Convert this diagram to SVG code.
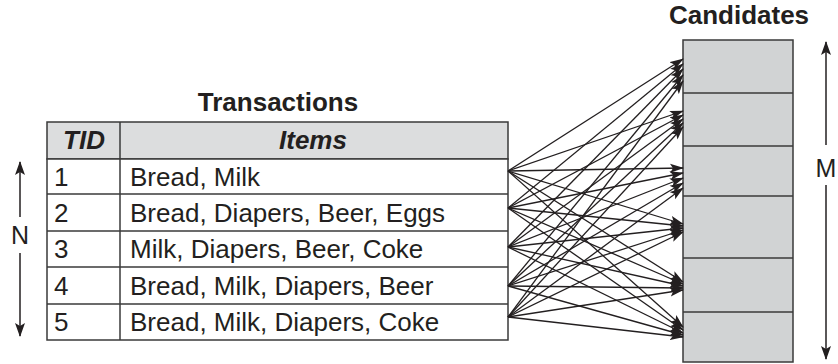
<svg xmlns="http://www.w3.org/2000/svg" width="838" height="364" viewBox="0 0 838 364">
<style>
.t{font-family:"Liberation Sans",Arial,sans-serif;font-size:26px;fill:#231f20}
.b{font-weight:bold}
.bi{font-weight:bold;font-style:italic}
.cell{stroke:#3a3a3a;stroke-width:1.5}
.c{stroke:#231f20;stroke-width:1.3;fill:none;marker-end:url(#ah)}
.dim{stroke:#231f20;stroke-width:1.5;fill:none}
</style>
<defs>
<marker id="ah" markerUnits="userSpaceOnUse" markerWidth="14" markerHeight="10" refX="13" refY="5" orient="auto">
<path d="M0,0.5 L14,5 L0,9.5 L3,5 z" fill="#231f20"/>
</marker>
<marker id="dh" markerUnits="userSpaceOnUse" markerWidth="14" markerHeight="10" refX="13" refY="5" orient="auto">
<path d="M0,0 L14,5 L0,10 L3,5 z" fill="#231f20"/>
</marker>
</defs>
<text class="t b" x="278" y="111" text-anchor="middle">Transactions</text>
<text class="t b" x="739" y="24" text-anchor="middle">Candidates</text>
<g id="table">
<rect class="cell" x="47" y="122" width="461" height="37" fill="#dcddde"/>
<rect class="cell" x="47" y="159" width="461" height="181" fill="#ffffff"/>
<line class="cell" x1="47" y1="194" x2="508" y2="194"/>
<line class="cell" x1="47" y1="231" x2="508" y2="231"/>
<line class="cell" x1="47" y1="267" x2="508" y2="267"/>
<line class="cell" x1="47" y1="304" x2="508" y2="304"/>
<line class="cell" x1="120" y1="122" x2="120" y2="340"/>
<text class="t bi" x="84" y="149" text-anchor="middle">TID</text>
<text class="t bi" x="313" y="149" text-anchor="middle">Items</text>
<text class="t" x="54" y="186">1</text><text class="t" x="130" y="186">Bread, Milk</text>
<text class="t" x="54" y="222">2</text><text class="t" x="130" y="222">Bread, Diapers, Beer, Eggs</text>
<text class="t" x="54" y="258">3</text><text class="t" x="130" y="258">Milk, Diapers, Beer, Coke</text>
<text class="t" x="54" y="295">4</text><text class="t" x="130" y="295">Bread, Milk, Diapers, Beer</text>
<text class="t" x="54" y="331">5</text><text class="t" x="130" y="331">Bread, Milk, Diapers, Coke</text>
</g>
<g id="candidates">
<rect class="cell" x="683" y="40" width="110" height="322" fill="#d1d3d4"/>
<line class="cell" x1="683" y1="93" x2="793" y2="93"/>
<line class="cell" x1="683" y1="146" x2="793" y2="146"/>
<line class="cell" x1="683" y1="196" x2="793" y2="196"/>
<line class="cell" x1="683" y1="258" x2="793" y2="258"/>
<line class="cell" x1="683" y1="312" x2="793" y2="312"/>
</g>
<g id="N">
<line class="dim" x1="20" y1="217" x2="20" y2="162" marker-end="url(#dh)"/>
<line class="dim" x1="20" y1="253" x2="20" y2="336" marker-end="url(#dh)"/>
<text class="t" x="20" y="244" text-anchor="middle" style="font-size:25px">N</text>
</g>
<g id="M">
<line class="dim" x1="826" y1="145" x2="826" y2="42" marker-end="url(#dh)"/>
<line class="dim" x1="826" y1="185" x2="826" y2="359" marker-end="url(#dh)"/>
<text class="t" x="826" y="177" text-anchor="middle" style="font-size:25px">M</text>
</g>
<g id="connectors">
<path class="c" d="M508,171 L683,59"/><path class="c" d="M508,171 L683,111"/><path class="c" d="M508,171 L683,168"/><path class="c" d="M508,171 L683,224"/><path class="c" d="M508,171 L683,282"/><path class="c" d="M508,171 L683,327"/>
<path class="c" d="M508,208 L683,64"/><path class="c" d="M508,208 L683,115"/><path class="c" d="M508,208 L683,173"/><path class="c" d="M508,208 L683,226"/><path class="c" d="M508,208 L683,284"/><path class="c" d="M508,208 L683,330"/>
<path class="c" d="M508,247 L683,69"/><path class="c" d="M508,247 L683,119"/><path class="c" d="M508,247 L683,178"/><path class="c" d="M508,247 L683,228"/><path class="c" d="M508,247 L683,286"/><path class="c" d="M508,247 L683,333"/>
<path class="c" d="M508,286 L683,75"/><path class="c" d="M508,286 L683,123"/><path class="c" d="M508,286 L683,183"/><path class="c" d="M508,286 L683,230"/><path class="c" d="M508,286 L683,288"/><path class="c" d="M508,286 L683,335"/>
<path class="c" d="M508,317 L683,81"/><path class="c" d="M508,317 L683,127"/><path class="c" d="M508,317 L683,188"/><path class="c" d="M508,317 L683,232"/><path class="c" d="M508,317 L683,290"/><path class="c" d="M508,317 L683,337"/>
</g>
</svg>
